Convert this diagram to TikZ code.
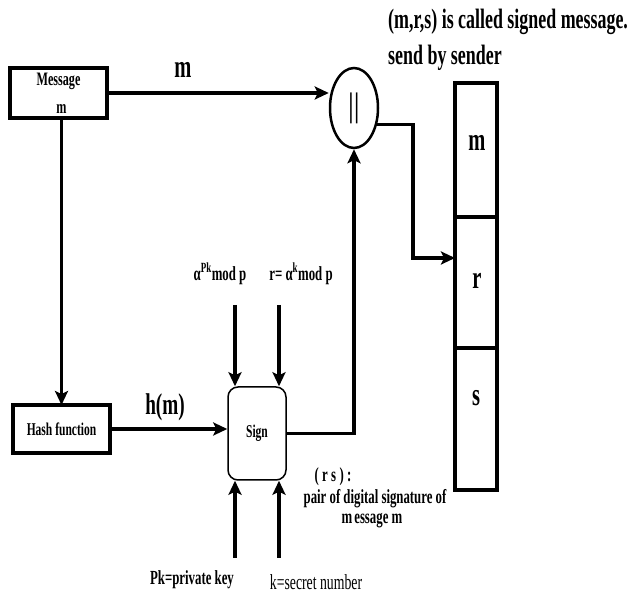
\documentclass[tikz,border=0pt]{standalone}
\usepackage{fontspec}
\setmainfont{Liberation Serif}[FakeStretch=0.64]
\usetikzlibrary{arrows.meta,shapes.geometric}
\newcommand{\fs}[1]{\fontsize{#1}{#1}\selectfont}
\begin{document}
\begin{tikzpicture}[x=1pt,y=-1pt,
 box/.style={draw,line width=3.5pt,rectangle,inner sep=0pt,outer sep=0pt},
 conn/.style={line width=3.2pt},
 arr/.style={conn,-{Stealth[length=14pt,width=13pt,inset=3pt]}},
 lbl/.style={font=\bfseries,inner sep=0pt},
]
\useasboundingbox[fill=white] (0,0) rectangle (638,593);

% boxes
\node[box,minimum width=97pt,minimum height=50pt,align=center,font=\bfseries\fs{19}] (msg) at (58.5,93) {Message\\[9pt]\hspace*{6pt}m};
\node[box,minimum width=97pt,minimum height=48pt,font=\bfseries\fs{18}] (hash) at (61.5,429) {Hash function};
\node[draw,line width=1.5pt,rounded corners=10pt,minimum width=58pt,minimum height=93pt,font=\bfseries\fs{18}] (sign) at (257,433.5) {Sign};
\node[ellipse,draw,line width=2.5pt,minimum width=48pt,minimum height=80pt,inner sep=0pt,font=\bfseries\fs{34}] (circ) at (354,108) {|\hspace{1pt}|};

% right column
\node[box,minimum width=42pt,minimum height=134pt,anchor=north west] (mbox) at (455,83) {};
\node[box,minimum width=42pt,minimum height=131pt,anchor=north] (rbox) at (mbox.south) {};
\node[box,minimum width=42pt,minimum height=142pt,anchor=north] (sbox) at (rbox.south) {};
\node[lbl,font=\bfseries\fs{32}] (mtxt) at (477,143) {m};
\node[lbl,font=\bfseries\fs{32}] (rtxt) at (477,281) {r};
\node[lbl,font=\bfseries\fs{32}] (stxt) at (476,398) {s};

% texts
\node[lbl,font=\bfseries\fs{28},anchor=west] (t1) at (388,22) {(m,r,s) is called signed message.};
\node[lbl,font=\bfseries\fs{28},anchor=west] (t2) at (388,58) {send by sender};
\node[lbl,font=\bfseries\fs{32}] (lm) at (183,70) {m};
\node[lbl,font=\bfseries\fs{30}] (lh) at (165,407) {h(m)};
\node[lbl,font=\bfseries\fs{20}] (a1) at (220,274) {α\textsuperscript{Pk}mod p};
\node[lbl,font=\bfseries\fs{20}] (a2) at (301,274) {r= α\textsuperscript{k}mod p};
\node[lbl,font=\bfseries\fs{20}] (pk) at (192,580) {Pk=private key};
\node[lbl,font=\fs{21.5}] (ks) at (316,582) {k=secret number};
\node[lbl,font=\bfseries\fs{20}] (rs) at (333,477) {(\,r\,s\,)\,:};
\node[lbl,font=\bfseries\fs{20},align=center] (pd) at (375,509) {pair of digital signature of\\[0pt]\hspace*{-6pt}m\hspace{2pt}essage m};

% input coordinates
\coordinate (p1) at (235,305);
\coordinate (p2) at (279,305);
\coordinate (q1) at (235,558);
\coordinate (q2) at (279,558);
\coordinate (b1) at (413,258);

% connectors
\draw[arr] (msg.east) -- (msg.east -| circ.west);
\draw[arr] (hash.north |- msg.south) -- (hash.north);
\draw[arr] (hash.east) -- (hash.east -| sign.west);
\draw[arr] (p1) -- (p1 |- sign.north);
\draw[arr] (p2) -- (p2 |- sign.north);
\draw[arr] (q1) -- (q1 |- sign.south);
\draw[arr] (q2) -- (q2 |- sign.south);
\draw[arr] (sign.east) -| (circ.south);
\draw[arr] (circ.-35) -| (b1) -- (b1 -| rbox.west);
\end{tikzpicture}
\end{document}
